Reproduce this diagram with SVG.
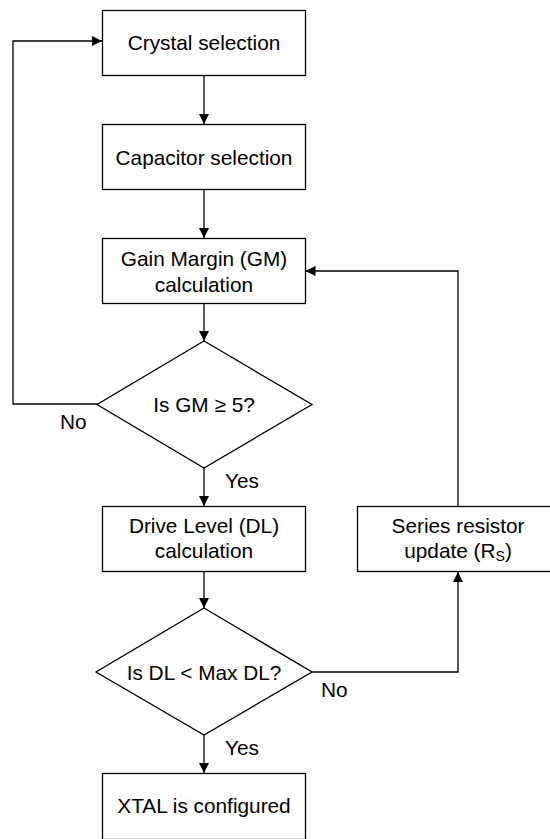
<svg xmlns="http://www.w3.org/2000/svg" width="550" height="839" viewBox="0 0 550 839">
<style>
.box{fill:#fff;stroke:#000;stroke-width:1.3}
.t{font-family:"Liberation Sans",Arial,sans-serif;font-size:20.8px;fill:#000;text-anchor:middle}
.l{font-family:"Liberation Sans",Arial,sans-serif;font-size:20.8px;fill:#000}
.c{fill:none;stroke:#000;stroke-width:1.3}
</style>
<defs>
<marker id="ah" markerUnits="userSpaceOnUse" markerWidth="10" markerHeight="10" refX="10" refY="5" orient="auto">
<path d="M0,0 L10,5 L0,10 z" fill="#000"/>
</marker>
</defs>
<rect width="550" height="839" fill="#fff"/>
<g id="connectors">
<line class="c" x1="204" y1="75" x2="204" y2="124" marker-end="url(#ah)"/>
<line class="c" x1="204" y1="190" x2="204" y2="238" marker-end="url(#ah)"/>
<line class="c" x1="204" y1="304" x2="204" y2="341" marker-end="url(#ah)"/>
<line class="c" x1="204" y1="468" x2="204" y2="506" marker-end="url(#ah)"/>
<line class="c" x1="204" y1="572" x2="204" y2="608" marker-end="url(#ah)"/>
<line class="c" x1="204" y1="735" x2="204" y2="773" marker-end="url(#ah)"/>
<polyline class="c" points="97,404 13,404 13,41 102,41" marker-end="url(#ah)"/>
<polyline class="c" points="312,672 458,672 458,572" marker-end="url(#ah)"/>
<polyline class="c" points="458,506 458,271 305.5,271" marker-end="url(#ah)"/>
<text class="l" x="60" y="429">No</text>
<text class="l" x="225" y="488">Yes</text>
<text class="l" x="321" y="697">No</text>
<text class="l" x="225" y="755">Yes</text>
</g>
<g id="crystal">
<rect class="box" x="102.5" y="10.5" width="203" height="65"/>
<text class="t" x="204" y="50">Crystal selection</text>
</g>
<g id="capacitor">
<rect class="box" x="102.5" y="124.5" width="203" height="65"/>
<text class="t" x="204" y="164.5">Capacitor selection</text>
</g>
<g id="gm">
<rect class="box" x="102.5" y="238.5" width="203" height="65"/>
<text class="t" x="204" y="265.5">Gain Margin (GM)</text>
<text class="t" x="204" y="291.5">calculation</text>
</g>
<g id="gmcheck">
<polygon class="box" points="204,341 312,404.5 204,468 97,404.5"/>
<text class="t" x="204" y="411.5">Is GM ≥ 5?</text>
</g>
<g id="drive">
<rect class="box" x="102.5" y="506.5" width="203" height="65"/>
<text class="t" x="204" y="533">Drive Level (DL)</text>
<text class="t" x="204" y="558">calculation</text>
</g>
<g id="series">
<rect class="box" x="357.5" y="506.5" width="203" height="65"/>
<text class="t" x="458" y="533">Series resistor</text>
<text class="t" x="458" y="558">update (R<tspan font-size="14" dy="3">S</tspan><tspan dy="-3">)</tspan></text>
</g>
<g id="dlcheck">
<polygon class="box" points="204,608 312,672 204,735 96,672"/>
<text class="t" x="204" y="679.5">Is DL &lt; Max DL?</text>
</g>
<g id="xtal">
<rect class="box" x="102.5" y="773.5" width="203" height="66"/>
<text class="t" x="204" y="813">XTAL is configured</text>
</g>
</svg>
